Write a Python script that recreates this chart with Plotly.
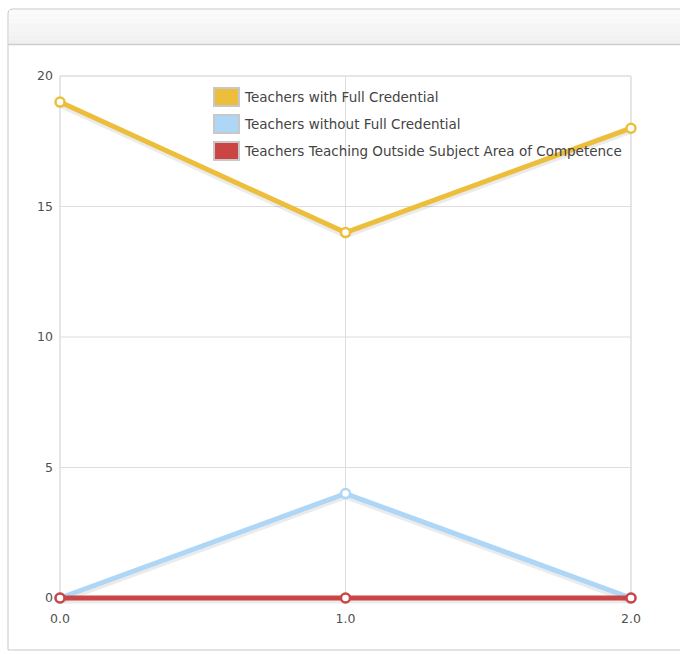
import plotly.graph_objects as go

# Data
x_vals = [0, 1, 2]
full_credential = [19, 14, 18]
without_credential = [0, 4, 0]
outside_subject = [0, 0, 0]

series_names = [
    "Teachers with Full Credential",
    "Teachers without Full Credential",
    "Teachers Teaching Outside Subject Area of Competence",
]
series_values = [full_credential, without_credential, outside_subject]
series_colors = ["#ECBE3B", "#AED6F6", "#CC4545"]

y_ticks = [0, 5, 10, 15, 20]
x_ticks = [0, 1, 2]
y_lo, y_hi = 0, 20
x_lo, x_hi = 0, 2

W, H = 680, 654
# pixel box of the value area (0..2 by 0..20)
box_l, box_r, box_t, box_b = 60, 631, 76, 598
pad = 9  # extra room so thick lines at the edges are not clipped

L, R, T, B = box_l - pad, W - box_r - pad, box_t - pad, H - box_b - pad
pw, ph = W - L - R, H - T - B
ux = (box_r - box_l) / (x_hi - x_lo)
uy = (box_b - box_t) / (y_hi - y_lo)
x_range = [x_lo - pad / ux, x_hi + pad / ux]
y_range = [y_lo - pad / uy, y_hi + pad / uy]


def px_x(v):
    return (v - L) / pw


def px_y(v):
    return (H - B - v) / ph


fig = go.Figure()

# soft drop shadow under each line
for vals in series_values:
    fig.add_trace(go.Scatter(
        x=x_vals, y=[v - 0.08 for v in vals], mode="lines",
        line=dict(color="rgba(0,0,0,0.08)", width=7),
        hoverinfo="skip", showlegend=False, cliponaxis=False,
    ))

for name, vals, color in zip(series_names, series_values, series_colors):
    fig.add_trace(go.Scatter(
        x=x_vals, y=vals, mode="lines+markers", name=name,
        line=dict(color=color, width=5),
        marker=dict(size=9, color="white", line=dict(color=color, width=2.5)),
        showlegend=False, cliponaxis=False,
    ))

grid_color = "#DDDDDD"
shapes = [
    # panel frame with rounded top-left corner
    dict(type="path", xref="paper", yref="paper",
         path=(f"M {px_x(8)},{px_y(650)} L {px_x(8)},{px_y(14)} "
               f"Q {px_x(8)},{px_y(9)} {px_x(13)},{px_y(9)} "
               f"L {px_x(700)},{px_y(9)} L {px_x(700)},{px_y(650)} Z"),
         line=dict(color="#C8C8C8", width=1), fillcolor="white", layer="below"),
]
# header band: soft vertical gradient
band_top, band_bot = 10, 44
steps = 8
for k in range(steps):
    y0 = band_top + (band_bot - band_top) * k / steps
    y1 = band_top + (band_bot - band_top) * (k + 1) / steps
    g = int(round(251 - (251 - 240) * k / (steps - 1)))
    shapes.append(dict(type="rect", xref="paper", yref="paper",
                       x0=px_x(9 if k else 12), x1=px_x(700),
                       y0=px_y(y1), y1=px_y(y0),
                       line=dict(width=0), fillcolor=f"rgb({g},{g},{g})",
                       layer="below"))
shapes.append(dict(type="line", xref="paper", yref="paper",
                   x0=px_x(8), x1=px_x(700), y0=px_y(44.5), y1=px_y(44.5),
                   line=dict(color="#CDCDCD", width=1.5), layer="below"))
# value-area box
shapes.append(dict(type="rect", xref="x", yref="y", x0=x_lo, x1=x_hi,
                   y0=y_lo, y1=y_hi, line=dict(color=grid_color, width=1),
                   layer="below"))
# gridlines
for yv in y_ticks:
    shapes.append(dict(type="line", xref="x", yref="y", x0=x_lo, x1=x_hi,
                       y0=yv, y1=yv, line=dict(color=grid_color, width=1),
                       layer="below"))
for xv in x_ticks:
    shapes.append(dict(type="line", xref="x", yref="y", x0=xv, x1=xv,
                       y0=y_lo, y1=y_hi, line=dict(color=grid_color, width=1),
                       layer="below"))

# legend: rectangular swatches with labels
annotations = []
leg_x, leg_y0, leg_step = 213, 97, 27
for i, (name, color) in enumerate(zip(series_names, series_colors)):
    cy = leg_y0 + i * leg_step
    shapes.append(dict(type="rect", xref="paper", yref="paper",
                       x0=px_x(leg_x + 1), x1=px_x(leg_x + 26),
                       y0=px_y(cy + 9), y1=px_y(cy - 9),
                       line=dict(color="#C8C8C8", width=2), fillcolor=color))
    annotations.append(dict(xref="paper", yref="paper",
                            x=px_x(leg_x + 29), y=px_y(cy),
                            xanchor="left", yanchor="middle", showarrow=False,
                            text=name,
                            font=dict(family="DejaVu Sans", size=13.5,
                                      color="#444444")))

fig.update_layout(
    width=W, height=H,
    margin=dict(l=L, r=R, t=T, b=B),
    paper_bgcolor="white", plot_bgcolor="rgba(0,0,0,0)",
    font=dict(family="DejaVu Sans", size=12.5, color="#505050"),
    shapes=shapes,
    annotations=annotations,
    showlegend=False,
    xaxis=dict(
        range=x_range, tickvals=x_ticks, tickformat=".1f",
        showgrid=False, showline=False, zeroline=False,
        ticks="", ticklabelstandoff=2,
    ),
    yaxis=dict(
        range=y_range, tickvals=y_ticks,
        showgrid=False, showline=False, zeroline=False,
        ticks="", ticklabelstandoff=-3,
    ),
)

fig.write_html("out.html")
